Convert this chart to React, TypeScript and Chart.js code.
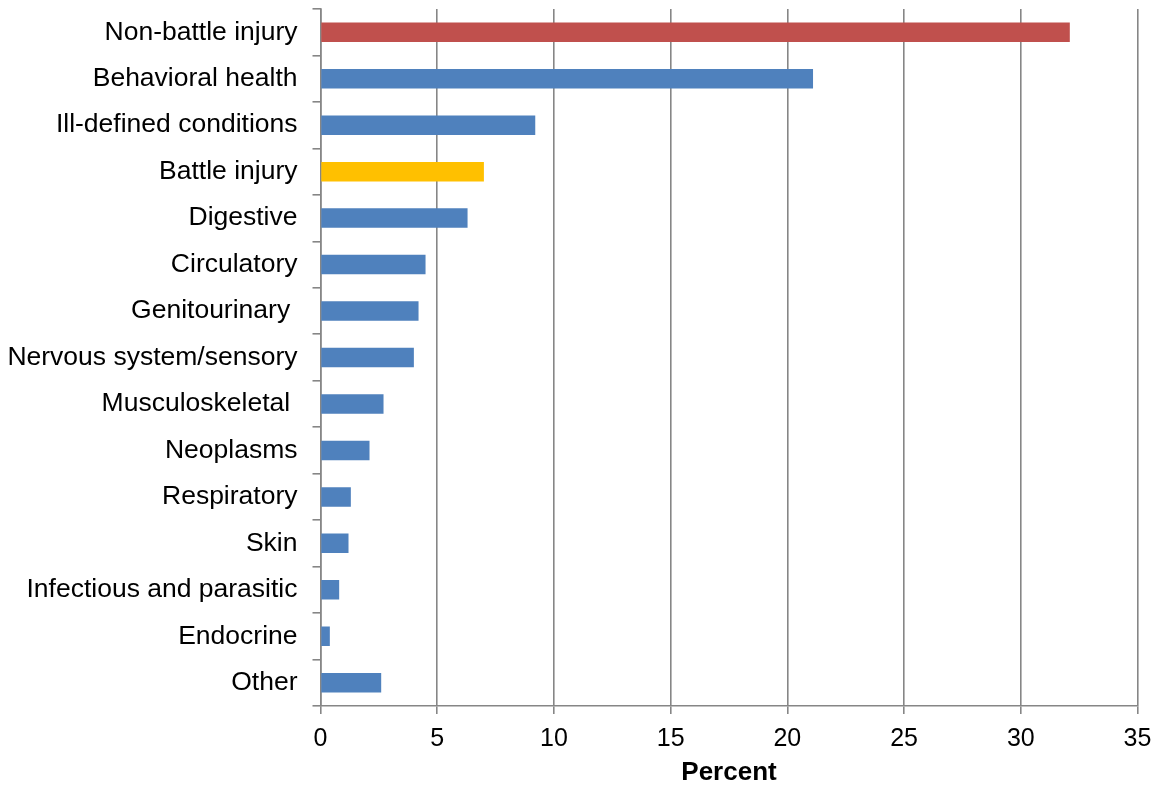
import React, { useEffect, useRef } from "react";
import { Chart, registerables } from "chart.js";

Chart.register(...registerables);

const categories = [
  "Non-battle injury",
  "Behavioral health",
  "Ill-defined conditions",
  "Battle injury",
  "Digestive",
  "Circulatory",
  "Genitourinary ",
  "Nervous system/sensory",
  "Musculoskeletal ",
  "Neoplasms",
  "Respiratory",
  "Skin",
  "Infectious and parasitic",
  "Endocrine",
  "Other",
];

const percentValues = [32.1, 21.1, 9.2, 7.0, 6.3, 4.5, 4.2, 4.0, 2.7, 2.1, 1.3, 1.2, 0.8, 0.4, 2.6];

const RED = "#C0504D";
const BLUE = "#4F81BD";
const GOLD = "#FFC000";

const barColors = categories.map((c) =>
  c === "Non-battle injury" ? RED : c === "Battle injury" ? GOLD : BLUE
);

const xTicks = [0, 5, 10, 15, 20, 25, 30, 35];

const FONT = "'Liberation Sans', Arial, sans-serif";
const GRID = "#868686";

export default function App() {
  const canvasRef = useRef<HTMLCanvasElement | null>(null);

  useEffect(() => {
    const canvas = canvasRef.current;
    if (!canvas) return;
    const chart = new Chart(canvas, {
      type: "bar",
      data: {
        labels: categories,
        datasets: [
          {
            data: percentValues,
            backgroundColor: barColors,
            borderWidth: 0,
            barPercentage: 0.84,
            categoryPercentage: 0.5,
          },
        ],
      },
      options: {
        indexAxis: "y",
        responsive: false,
        animation: false,
        layout: { padding: { top: 9, right: 17.5, left: 0, bottom: 0 } },
        plugins: {
          legend: { display: false },
          tooltip: { enabled: false },
        },
        scales: {
          x: {
            type: "linear",
            min: 0,
            max: 35,
            afterBuildTicks: (scale: any) => {
              scale.ticks = xTicks.map((v) => ({ value: v }));
            },
            afterFit: (scale: any) => {
              scale.height = 82;
              scale.paddingLeft = 0;
              scale.paddingRight = 0;
            },
            grid: {
              color: GRID,
              lineWidth: 1.6,
              tickLength: 8,
              drawTicks: true,
            },
            border: { color: GRID, width: 1.6 },
            ticks: {
              color: "#000",
              padding: 10,
              font: { family: FONT, size: 25 },
            },
            title: {
              display: true,
              text: "Percent",
              color: "#000",
              font: { family: FONT, size: 26, weight: "bold" },
              padding: { top: -3, bottom: 0 },
            },
          },
          y: {
            afterFit: (scale: any) => {
              scale.width = 320.5;
              scale.paddingTop = 0;
              scale.paddingBottom = 0;
            },
            grid: {
              display: true,
              drawOnChartArea: false,
              drawTicks: true,
              tickLength: 8,
              color: GRID,
              lineWidth: 1.6,
              offset: true,
            },
            border: { color: GRID, width: 1.6 },
            ticks: {
              color: "#000",
              padding: 15,
              autoSkip: false,
              font: { family: FONT, size: 26.5 },
            },
          },
        },
      },
    } as any);
    return () => chart.destroy();
  }, []);

  return (
    <div style={{ position: "fixed", left: 0, top: 0, width: 1155, height: 788, background: "#fff" }}>
      <canvas ref={canvasRef} width={1155} height={788} style={{ display: "block" }} />
    </div>
  );
}
